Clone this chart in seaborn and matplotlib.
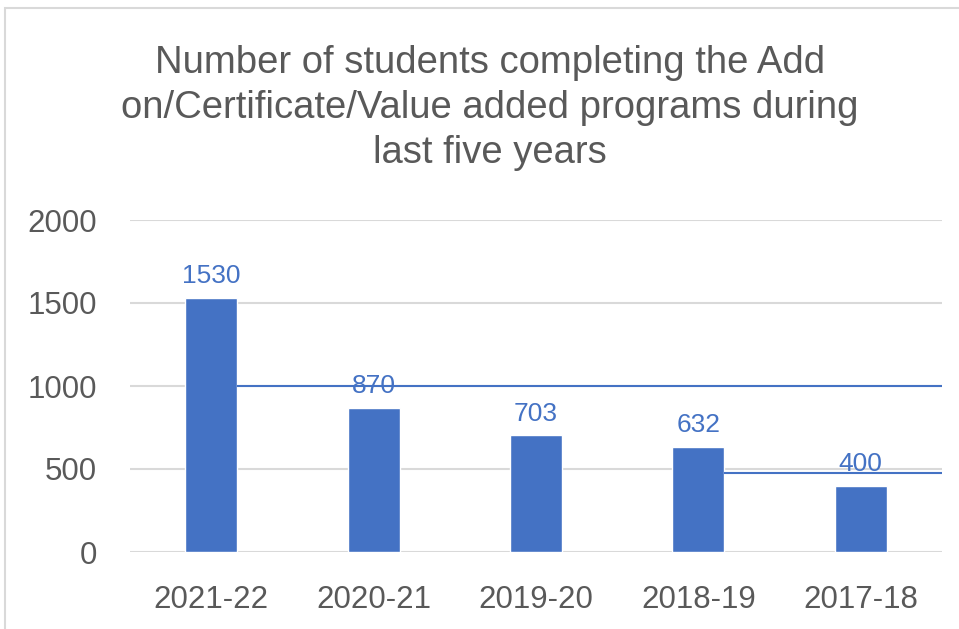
import matplotlib
matplotlib.use("Agg")
import matplotlib.pyplot as plt
import seaborn as sns
import pandas as pd
from matplotlib.patches import Rectangle

years = ["2021-22", "2020-21", "2019-20", "2018-19", "2017-18"]
students = [1530, 870, 703, 632, 400]
yticks = [0, 500, 1000, 1500, 2000]
title = "Number of students completing the Add\non/Certificate/Value added programs during\nlast five years"

sns.set_theme(style="white")
plt.rcParams['font.family'] = ['Liberation Sans', 'DejaVu Sans']

W, H = 959, 629
fig = plt.figure(figsize=(W / 100, H / 100), dpi=100)
ax = fig.add_axes([130 / W, (H - 552) / H, (942 - 130) / W, (552 - 220) / H])

df = pd.DataFrame({"year": years, "students": students})
sns.barplot(data=df, x="year", y="students", color="#4472C4", saturation=1,
            width=0.32, ax=ax, zorder=3)

ax.set_xlim(-0.5, len(years) - 0.5)
ax.set_ylim(0, 2000)
ax.set_yticks(yticks)
ax.set_yticklabels([str(t) for t in yticks])
ax.yaxis.grid(True, color="#D9D9D9", linewidth=1.5, zorder=0)
ax.set_axisbelow(True)
for s in ax.spines.values():
    s.set_visible(False)
ax.set_xlabel("")
ax.set_ylabel("")
ax.tick_params(axis="both", length=0, labelsize=22.5, colors="#595959")
ax.tick_params(axis="x", pad=24)
ax.tick_params(axis="y", pad=24)

for i, v in enumerate(students):
    ax.annotate(str(v), (i, v), xytext=(0, 7), textcoords="offset points",
                ha="center", va="bottom", fontsize=19, color="#4472C4", zorder=5)

# stray blue rule lines present in the source image
bw = 0.32
ax.hlines(1000, 0 + bw / 2, len(years) - 0.5, color="#4472C4", linewidth=1.5, zorder=4)
ax.hlines(475, 3 + bw / 2, len(years) - 0.5, color="#4472C4", linewidth=1.5, zorder=4)

fig.text(490 / W, 1 - 108 / H, title, ha="center", va="center", fontsize=27.5,
         color="#595959", linespacing=1.33)

# chart area border
fig.patches.append(Rectangle((5 / W, -0.01), 1.0, 1 - 8 / H + 0.01, transform=fig.transFigure,
                             fill=False, edgecolor="#D9D9D9", linewidth=1.5))

fig.savefig("out.png", dpi=100)
